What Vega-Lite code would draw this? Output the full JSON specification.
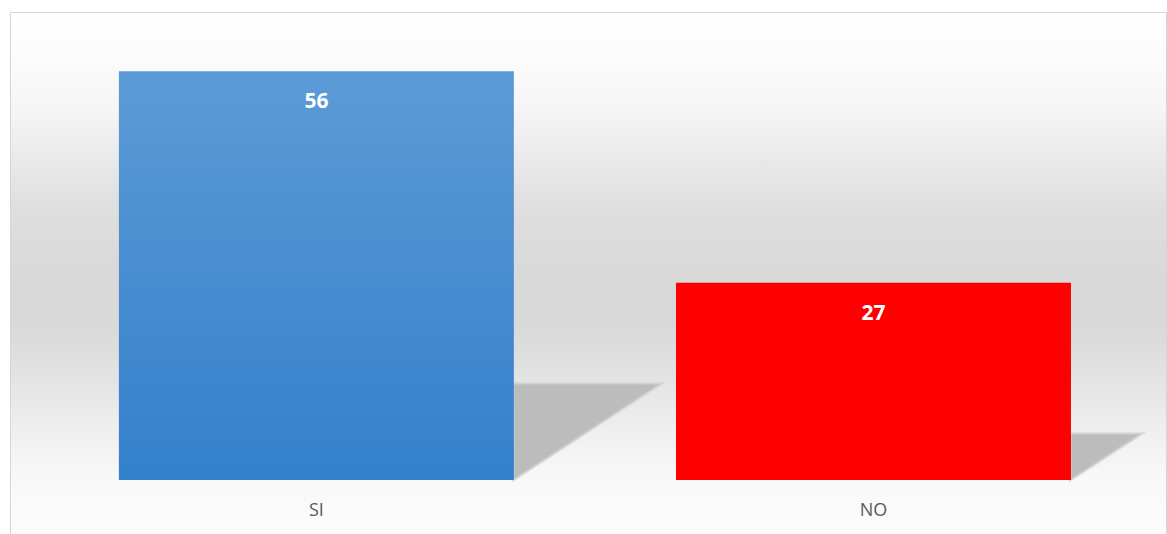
{
  "$schema": "https://vega.github.io/schema/vega-lite/v6.json",
  "width": 1156,
  "height": 522,
  "autosize": {"type": "none"},
  "padding": {"left": 10, "top": 12, "right": 1, "bottom": 0},
  "background": "#ffffff",
  "config": {
    "view": {
      "stroke": "#d6d6d6",
      "strokeWidth": 1,
      "fill": {
        "gradient": "linear", "x1": 0, "y1": 0, "x2": 0, "y2": 1,
        "stops": [
          {"offset": 0, "color": "#ffffff"},
          {"offset": 0.08, "color": "#fcfcfc"},
          {"offset": 0.19, "color": "#f5f5f5"},
          {"offset": 0.29, "color": "#e8e8e8"},
          {"offset": 0.38, "color": "#dedede"},
          {"offset": 0.5, "color": "#d9d9d9"},
          {"offset": 0.6, "color": "#d9d9d9"},
          {"offset": 0.7, "color": "#e3e3e3"},
          {"offset": 0.8, "color": "#efefef"},
          {"offset": 0.89, "color": "#f8f8f8"},
          {"offset": 1, "color": "#fcfcfc"}
        ]
      }
    },
    "font": "Open Sans"
  },
  "data": {"values": [
    {"categoria": "SI", "valor": 56},
    {"categoria": "NO", "valor": 27}
  ]},
  "encoding": {
    "x": {
      "field": "categoria", "type": "nominal", "sort": ["SI", "NO"],
      "scale": {"paddingInner": 0.291, "paddingOuter": 0.183, "align": 0.534},
      "axis": null
    }
  },
  "layer": [
    {
      "mark": {"type": "point", "filled": true, "shape": "M0,0L0,-0.235L0.36,-0.235Z", "xOffset": 197, "fill": "#bcbcbc", "opacity": 1, "stroke": "#cbcbcb", "strokeWidth": 3, "strokeOpacity": 0.6},
      "encoding": {
        "y": {"datum": 0, "type": "quantitative", "scale": {"domain": [-7.4, 64.1], "nice": false, "zero": false}, "axis": null},
        "size": {"field": "valor", "type": "quantitative", "scale": {"type": "pow", "exponent": 2, "domain": [0, 56], "range": [0, 669124]}, "legend": null}
      }
    },
    {
      "transform": [{"filter": "datum.categoria === 'SI'"}],
      "mark": {"type": "bar", "color": {
        "gradient": "linear", "x1": 0, "y1": 0, "x2": 0, "y2": 1,
        "stops": [{"offset": 0, "color": "#5c9bd6"}, {"offset": 1, "color": "#3380cb"}]
      }},
      "encoding": {
        "y": {"field": "valor", "type": "quantitative"},
        "y2": {"datum": 0}
      }
    },
    {
      "transform": [{"filter": "datum.categoria === 'NO'"}],
      "mark": {"type": "bar", "color": "#ff0000"},
      "encoding": {
        "y": {"field": "valor", "type": "quantitative"},
        "y2": {"datum": 0}
      }
    },
    {
      "mark": {"type": "text", "color": "#ffffff", "fontWeight": "bold", "fontSize": 21, "baseline": "middle", "dy": 31},
      "encoding": {
        "y": {"field": "valor", "type": "quantitative"},
        "text": {"field": "valor", "type": "quantitative"}
      }
    },
    {
      "mark": {"type": "text", "color": "#595959", "fontSize": 18, "baseline": "middle"},
      "encoding": {
        "y": {"datum": -4.25},
        "text": {"field": "categoria", "type": "nominal"}
      }
    }
  ]
}
